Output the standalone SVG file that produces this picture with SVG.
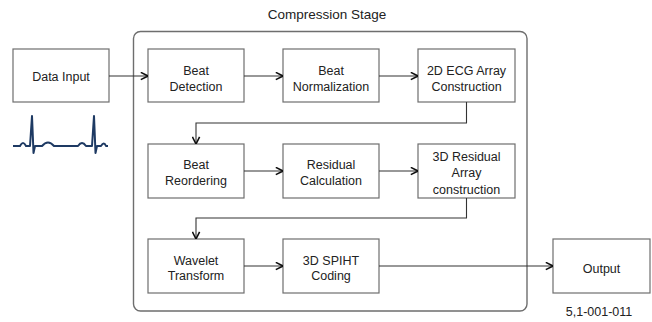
<svg xmlns="http://www.w3.org/2000/svg" width="652" height="322" viewBox="0 0 652 322">
  <style>
    .box { fill: #ffffff; stroke: #6e6e6e; stroke-width: 1.2; }
    .stage { fill: none; stroke: #6e6e6e; stroke-width: 1.4; }
    .lbl { font-family: "Liberation Sans", Arial, sans-serif; font-size: 12.5px; fill: #222222; text-anchor: middle; }
    .title { font-family: "Liberation Sans", Arial, sans-serif; font-size: 13.5px; fill: #222222; text-anchor: middle; }
    .edge { fill: none; stroke: #333333; stroke-width: 1.1; marker-end: url(#chev); }
    .ecg { fill: none; stroke: #1e3a63; stroke-width: 2; stroke-linejoin: round; }
  </style>
  <defs>
    <marker id="chev" viewBox="0 0 10 10" refX="9.5" refY="5" markerWidth="9" markerHeight="9" markerUnits="userSpaceOnUse" orient="auto">
      <path d="M1.5,1 L9.5,5 L1.5,9" fill="none" stroke="#111111" stroke-width="1.8"/>
    </marker>
  </defs>

  <rect fill="#ffffff" x="0" y="0" width="652" height="322"/>

  <!-- compression stage container -->
  <g id="stage">
    <rect class="stage" x="133.5" y="31.5" width="393.5" height="279.5" rx="7"/>
    <text class="title" x="327" y="19">Compression Stage</text>
  </g>

  <g id="data-input">
    <rect class="box" x="13" y="49" width="96" height="53"/>
    <text class="lbl" x="61" y="81">Data Input</text>
  </g>

  <g id="ecg-trace">
    <path class="ecg" d="M13,146 L20,146 Q23,140 26,146 L30,146 L32,116 L33.5,153 L35,146 L42,146 Q48,139 54,146 L78,146 Q82,140 86,146 L92,146 L94,116 L95.5,153 L97,146 L101,146 Q104,141 106,146 L108,146"/>
  </g>

  <g id="beat-detection">
    <rect class="box" x="148" y="49" width="96" height="53"/>
    <text class="lbl" x="196" y="74.5">Beat</text>
    <text class="lbl" x="196" y="90.5">Detection</text>
  </g>

  <g id="beat-normalization">
    <rect class="box" x="283" y="49" width="96" height="53"/>
    <text class="lbl" x="331" y="74.5">Beat</text>
    <text class="lbl" x="331" y="90.5">Normalization</text>
  </g>

  <g id="ecg-array">
    <rect class="box" x="418" y="49" width="97" height="53"/>
    <text class="lbl" x="466.5" y="74.5">2D ECG Array</text>
    <text class="lbl" x="466.5" y="90.5">Construction</text>
  </g>

  <g id="beat-reordering">
    <rect class="box" x="148" y="144" width="96" height="54"/>
    <text class="lbl" x="196" y="169">Beat</text>
    <text class="lbl" x="196" y="185">Reordering</text>
  </g>

  <g id="residual-calculation">
    <rect class="box" x="283" y="144" width="96" height="54"/>
    <text class="lbl" x="331" y="169">Residual</text>
    <text class="lbl" x="331" y="185">Calculation</text>
  </g>

  <g id="residual-array">
    <rect class="box" x="418" y="144" width="97" height="54"/>
    <text class="lbl" x="466.5" y="161">3D Residual</text>
    <text class="lbl" x="466.5" y="177">Array</text>
    <text class="lbl" x="466.5" y="193.5">construction</text>
  </g>

  <g id="wavelet-transform">
    <rect class="box" x="148" y="239" width="96" height="54"/>
    <text class="lbl" x="196" y="264.5">Wavelet</text>
    <text class="lbl" x="196" y="280">Transform</text>
  </g>

  <g id="spiht-coding">
    <rect class="box" x="283" y="239" width="96" height="54"/>
    <text class="lbl" x="331" y="264.5">3D SPIHT</text>
    <text class="lbl" x="331" y="280">Coding</text>
  </g>

  <g id="output">
    <rect class="box" x="553" y="239" width="97" height="54"/>
    <text class="lbl" x="601.5" y="272.5">Output</text>
    <text class="lbl" x="599" y="316">5,1-001-011</text>
  </g>

  <!-- connectors -->
  <g id="connectors">
    <path class="edge" d="M109,76 L148,76"/>
    <path class="edge" d="M244,76 L283,76"/>
    <path class="edge" d="M379,76 L418,76"/>
    <path class="edge" d="M466.5,102 L466.5,123 L196,123 L196,144"/>
    <path class="edge" d="M244,171 L283,171"/>
    <path class="edge" d="M379,171 L418,171"/>
    <path class="edge" d="M466.5,198 L466.5,218 L196,218 L196,239"/>
    <path class="edge" d="M244,266 L283,266"/>
    <path class="edge" d="M379,266 L553,266"/>
  </g>
</svg>
